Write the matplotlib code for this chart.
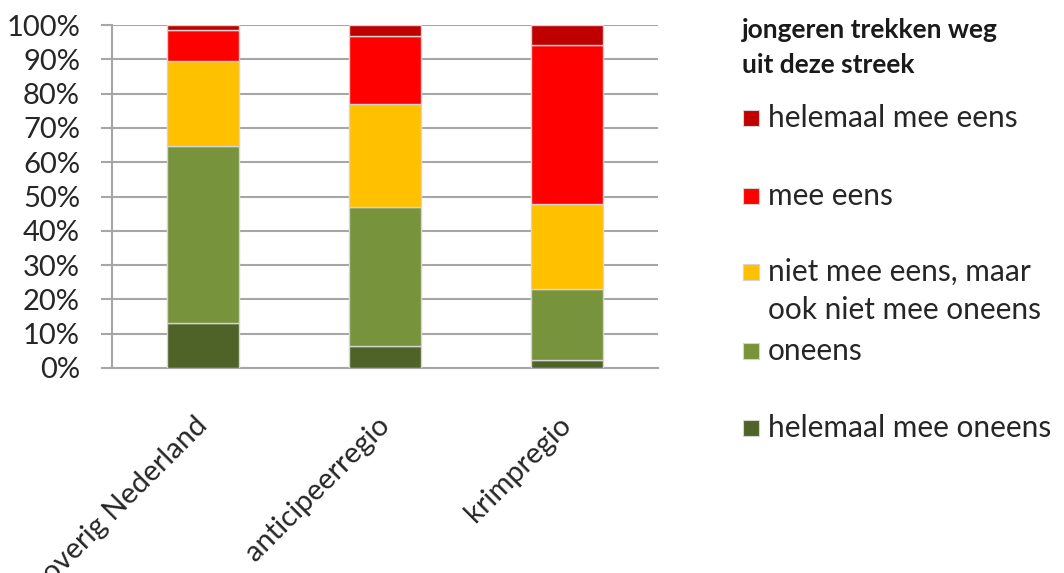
import matplotlib.pyplot as plt
from matplotlib.patches import Rectangle

plt.rcParams['font.family'] = ['Lato', 'DejaVu Sans']

regios = ['overig Nederland', 'anticipeerregio', 'krimpregio']
# shares per answer (%), bottom to top
helemaal_oneens = [13.1, 6.4, 2.3]
oneens = [51.6, 40.5, 20.7]
neutraal = [24.8, 30.1, 24.8]
eens = [9.0, 19.8, 46.4]
helemaal_eens = [1.5, 3.2, 5.8]

series = [
    ('helemaal mee oneens', helemaal_oneens, '#4F6228'),
    ('oneens', oneens, '#77933C'),
    ('niet mee eens, maar\nook niet mee oneens', neutraal, '#FFC000'),
    ('mee eens', eens, '#FF0000'),
    ('helemaal mee eens', helemaal_eens, '#C00000'),
]

fig = plt.figure(figsize=(10.64, 5.73), dpi=100)
ax = fig.add_axes([112/1064, 1-368/573, 546/1064, 343/573])

x = range(len(regios))
bottom = [0.0]*len(regios)
for naam, vals, kleur in series:
    ax.bar(x, vals, width=0.4, bottom=bottom, color=kleur, edgecolor='#d4d4d4',
           linewidth=1, zorder=3)
    bottom = [b+v for b, v in zip(bottom, vals)]

ax.set_xlim(-0.5, len(regios)-0.5)
ax.set_ylim(0, 100)
ax.set_yticks(range(0, 101, 10))
ax.set_yticklabels(['%d%%' % t for t in range(0, 101, 10)], fontsize=21, color='#262626')
ax.yaxis.grid(True, color='#a6a6a6', linewidth=1.5, zorder=0)
ax.tick_params(axis='y', length=8, width=1.5, color='#a6a6a6', pad=15)
ax.tick_params(axis='x', length=0, pad=38)
ax.set_xticks(list(x))
ax.set_xticklabels(regios, rotation=45, ha='right', va='center', rotation_mode='anchor',
                   fontsize=21, color='#262626')
for s in ['top', 'right']:
    ax.spines[s].set_visible(False)
ax.spines['left'].set_color('#a6a6a6')
ax.spines['left'].set_linewidth(1.5)
ax.spines['bottom'].set_color('#a6a6a6')
ax.spines['bottom'].set_linewidth(1.5)

# legend, laid out like the original
W, H = 1064, 573
fig.text(742/W, 1-30/H, 'jongeren trekken weg', fontsize=19, fontweight='bold',
         va='center', ha='left', color='#1a1a1a')
fig.text(742/W, 1-65/H, 'uit deze streek', fontsize=19, fontweight='bold',
         va='center', ha='left', color='#1a1a1a')
ys = [118, 196, 272, 351, 428]
for (naam, vals, kleur), yc in zip(series[::-1], ys):
    fig.patches.append(Rectangle((743/W, 1-(yc+8)/H), 16/W, 16/H, transform=fig.transFigure,
                                 facecolor=kleur, edgecolor='#d4d4d4', linewidth=0.8))
    lines = naam.split('\n')
    for i, ln in enumerate(lines):
        fig.text(768/W, 1-(yc+i*38)/H, ln, fontsize=21.5, va='center', ha='left',
                 color='#262626')

fig.savefig('out.png', dpi=100)
